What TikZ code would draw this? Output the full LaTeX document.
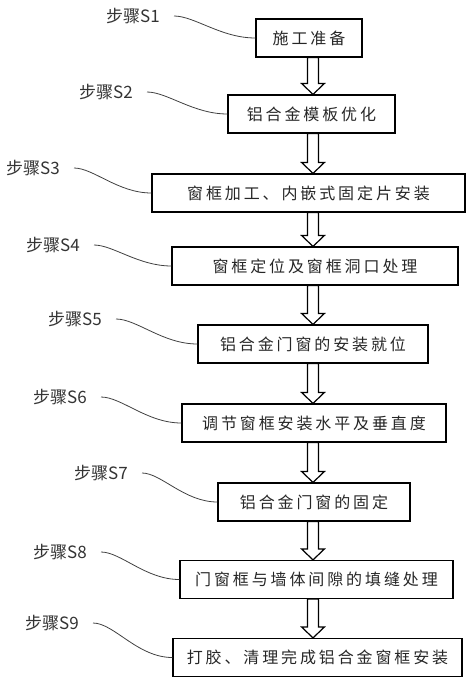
\documentclass[tikz,border=0pt]{standalone}
\usepackage{fontspec}
\setmainfont{Noto Sans CJK SC}
\newfontfamily\boxfont[LetterSpace=18]{Noto Sans CJK SC}
\usetikzlibrary{calc}

\tikzset{
  stepbox/.style={draw, line width=1.2pt, minimum height=38, inner sep=0pt, text=black!85, font=\boxfont\fontsize{16}{16}\selectfont},
  steplabel/.style={anchor=east, inner sep=0pt, text=black!80, font=\fontsize{17}{17}\selectfont},
  lead/.style={line width=0.8pt, black!75, shorten <=14pt, out=0, in=180, looseness=0.9},
  hollow/.style={line width=1.2pt, to path={let \p1=(\tikztostart), \p2=(\tikztotarget) in
    (\x1-5.5pt,\y1) -- (\x1-5.5pt,\y2+11pt) -- (\x1-11.5pt,\y2+11pt) -- (\x2,\y2)
    -- (\x1+11.5pt,\y2+11pt) -- (\x1+5.5pt,\y2+11pt) -- (\x1+5.5pt,\y1) -- cycle}}
}

\begin{document}
\begin{tikzpicture}[x=1pt,y=-1pt]
\useasboundingbox (0,0) rectangle (474,683);
\coordinate (ax) at (313,0);
\node[stepbox, minimum width=106] (b1) at (309,38) {施工准备};
\node[stepbox, minimum width=167] (b2) at (311.5,114) {铝合金模板优化};
\node[stepbox, minimum width=313] (b3) at (308.5,193) {窗框加工、内嵌式固定片安装};
\node[stepbox, minimum width=286] (b4) at (315,266) {窗框定位及窗框洞口处理};
\node[stepbox, minimum width=230] (b5) at (313,344) {铝合金门窗的安装就位};
\node[stepbox, minimum width=264] (b6) at (314,423) {调节窗框安装水平及垂直度};
\node[stepbox, minimum width=192] (b7) at (314,502) {铝合金门窗的固定};
\node[stepbox, minimum width=273] (b8) at (316.5,579.5) {门窗框与墙体间隙的填缝处理};
\node[stepbox, minimum width=289] (b9) at (317.5,657.5) {打胶、清理完成铝合金窗框安装};
\node[steplabel] (l1) at (160,16) {步骤S1};
\node[steplabel] (l2) at (133,92) {步骤S2};
\node[steplabel] (l3) at (60,168) {步骤S3};
\node[steplabel] (l4) at (80,245) {步骤S4};
\node[steplabel] (l5) at (102,319) {步骤S5};
\node[steplabel] (l6) at (87,397) {步骤S6};
\node[steplabel] (l7) at (128,473) {步骤S7};
\node[steplabel] (l8) at (87,552) {步骤S8};
\node[steplabel] (l9) at (79,623) {步骤S9};
\draw[lead] (l1.east) to (b1.west);
\draw[lead] (l2.east) to (b2.west);
\draw[lead] (l3.east) to (b3.west);
\draw[lead] (l4.east) to (b4.west);
\draw[lead] (l5.east) to (b5.west);
\draw[lead] (l6.east) to (b6.west);
\draw[lead] (l7.east) to (b7.west);
\draw[lead] (l8.east) to (b8.west);
\draw[lead] (l9.east) to (b9.west);
\draw[hollow] (b1.south -| ax) to (b2.north -| ax);
\draw[hollow] (b2.south -| ax) to (b3.north -| ax);
\draw[hollow] (b3.south -| ax) to (b4.north -| ax);
\draw[hollow] (b4.south -| ax) to (b5.north -| ax);
\draw[hollow] (b5.south -| ax) to (b6.north -| ax);
\draw[hollow] (b6.south -| ax) to (b7.north -| ax);
\draw[hollow] (b7.south -| ax) to (b8.north -| ax);
\draw[hollow] (b8.south -| ax) to (b9.north -| ax);
\end{tikzpicture}
\end{document}
